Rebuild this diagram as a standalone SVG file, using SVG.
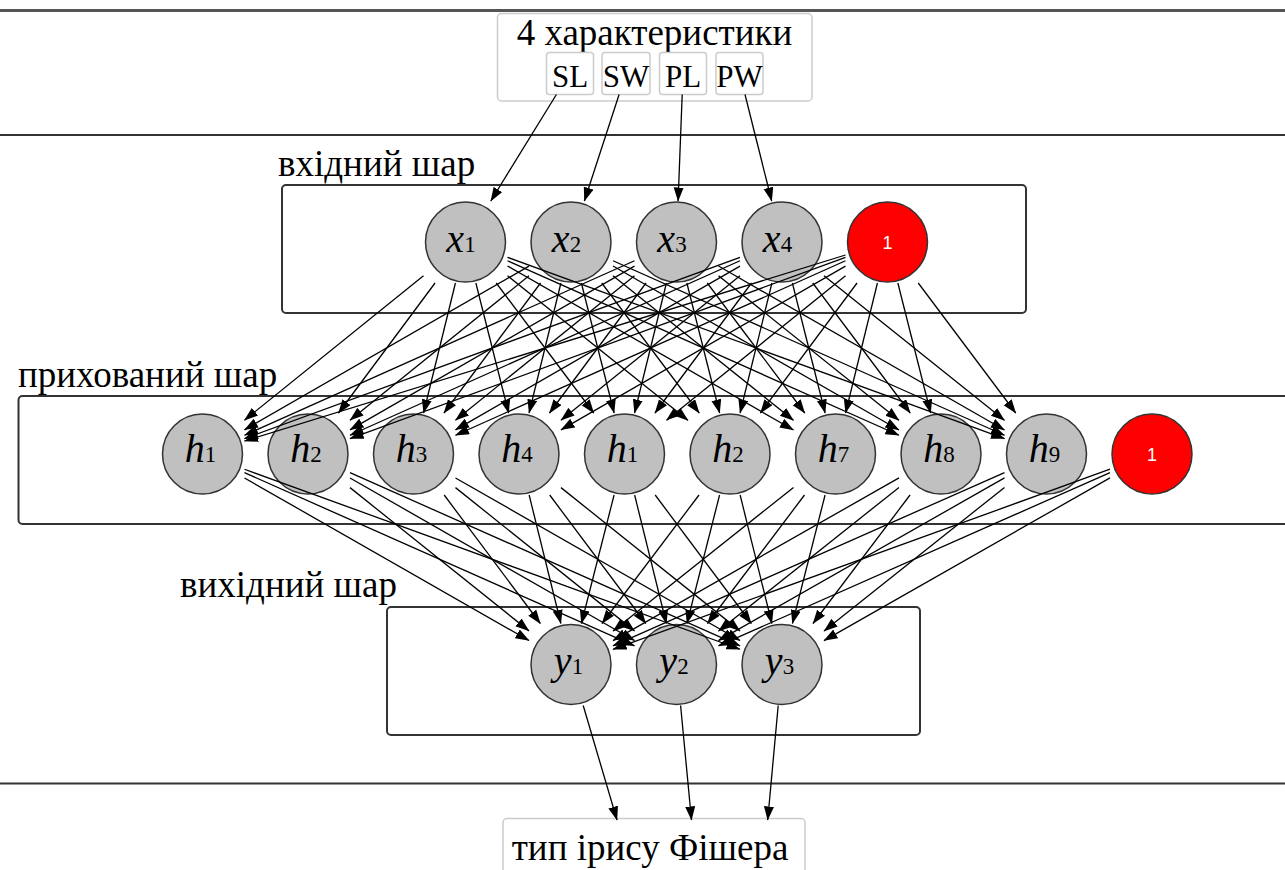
<svg xmlns="http://www.w3.org/2000/svg" width="1285" height="870" viewBox="0 0 1285 870">
  <style>
    .sep { stroke: #333; stroke-width: 2; }
    .layer { fill: none; stroke: #333; stroke-width: 2; }
    .io { fill: #fff; stroke: #ccc; stroke-width: 1.5; }
    .lbl { font-family: "Liberation Serif", "DejaVu Serif", serif; fill: #000; }
    .big { font-size: 37px; }
    .tag { font-size: 31px; }
    .layerlbl { font-size: 37px; }
    .n { fill: #c0c0c0; stroke: #333; stroke-width: 1.5; }
    .bias { fill: #ff0000; stroke: #333; stroke-width: 1.5; }
    .sym { font-family: "Liberation Serif", "DejaVu Serif", serif; font-size: 40px; font-style: italic; text-anchor: middle; }
    .sub { font-size: 23px; font-style: normal; }
    .one { font-family: "Liberation Sans", Arial, sans-serif; font-size: 18px; fill: #fff; text-anchor: middle; }
    .e line { stroke: #000; stroke-width: 1.3; marker-end: url(#ah); }
  </style>
  <defs>
    <marker id="ah" markerUnits="userSpaceOnUse" markerWidth="16" markerHeight="11" refX="13.5" refY="5" orient="auto">
      <path d="M0,0 L14,5 L0,10 z" fill="#000"/>
    </marker>
  </defs>

  <rect width="1285" height="870" fill="#fff"/>

  <!-- separators -->
  <line x1="0" y1="10.5" x2="1285" y2="10.5" stroke="#555" stroke-width="3"/>
  <line class="sep" x1="0" y1="135" x2="1285" y2="135"/>
  <line class="sep" x1="0" y1="783.5" x2="1285" y2="783.5"/>

  <!-- features -->
  <g id="features">
    <rect class="io" x="497.5" y="13.5" width="314.5" height="87.5" rx="4"/>
    <text class="lbl big" x="654.5" y="45" text-anchor="middle">4 характеристики</text>
    <g id="f-SL"><rect class="io" x="546.5" y="52.5" width="47" height="42" rx="3"/><text class="lbl tag" x="570" y="87" text-anchor="middle">SL</text></g>
    <g id="f-SW"><rect class="io" x="602" y="52.5" width="48" height="42" rx="3"/><text class="lbl tag" x="626" y="87" text-anchor="middle">SW</text></g>
    <g id="f-PL"><rect class="io" x="659.5" y="52.5" width="47" height="42" rx="3"/><text class="lbl tag" x="683" y="87" text-anchor="middle">PL</text></g>
    <g id="f-PW"><rect class="io" x="716" y="52.5" width="47" height="42" rx="3"/><text class="lbl tag" x="739.5" y="87" text-anchor="middle">PW</text></g>
  </g>

  <!-- result -->
  <g id="result">
    <rect class="io" x="503" y="818.5" width="302" height="80" rx="4"/>
    <text class="lbl big" x="650" y="860" text-anchor="middle">тип ірису Фішера</text>
  </g>

  <!-- layer frames -->
  <g id="input-layer">
    <rect class="layer" x="282" y="185" width="744" height="128" rx="4"/>
    <text class="lbl layerlbl" x="278" y="176">вхідний шар</text>
  </g>
  <g id="hidden-layer">
    <rect class="layer" x="18.5" y="396" width="1290" height="128" rx="4"/>
    <text class="lbl layerlbl" x="18" y="386.5">прихований шар</text>
  </g>
  <g id="output-layer">
    <rect class="layer" x="387" y="607" width="533" height="128" rx="4"/>
    <text class="lbl layerlbl" x="180" y="596.5">вихідний шар</text>
  </g>

  <!-- input nodes -->
  <g id="x1"><circle class="n" cx="465.5" cy="242" r="40"/><text class="sym" x="461" y="252">x<tspan class="sub">1</tspan></text></g>
  <g id="x2"><circle class="n" cx="571" cy="242" r="40"/><text class="sym" x="566.5" y="252">x<tspan class="sub">2</tspan></text></g>
  <g id="x3"><circle class="n" cx="676.5" cy="242" r="40"/><text class="sym" x="672" y="252">x<tspan class="sub">3</tspan></text></g>
  <g id="x4"><circle class="n" cx="782" cy="242" r="40"/><text class="sym" x="777.5" y="252">x<tspan class="sub">4</tspan></text></g>
  <g id="b-in"><circle class="bias" cx="887.5" cy="242" r="40"/><text class="one" x="887.5" y="249">1</text></g>

  <!-- hidden nodes -->
  <g id="h-1"><circle class="n" cx="202.5" cy="454" r="40"/><text class="sym" x="200.5" y="462">h<tspan class="sub">1</tspan></text></g>
  <g id="h-2"><circle class="n" cx="308" cy="454" r="40"/><text class="sym" x="306" y="462">h<tspan class="sub">2</tspan></text></g>
  <g id="h-3"><circle class="n" cx="413.5" cy="454" r="40"/><text class="sym" x="411.5" y="462">h<tspan class="sub">3</tspan></text></g>
  <g id="h-4"><circle class="n" cx="519" cy="454" r="40"/><text class="sym" x="517" y="462">h<tspan class="sub">4</tspan></text></g>
  <g id="h-5"><circle class="n" cx="624.5" cy="454" r="40"/><text class="sym" x="622.5" y="462">h<tspan class="sub">1</tspan></text></g>
  <g id="h-6"><circle class="n" cx="730" cy="454" r="40"/><text class="sym" x="728" y="462">h<tspan class="sub">2</tspan></text></g>
  <g id="h-7"><circle class="n" cx="835.5" cy="454" r="40"/><text class="sym" x="833.5" y="462">h<tspan class="sub">7</tspan></text></g>
  <g id="h-8"><circle class="n" cx="941" cy="454" r="40"/><text class="sym" x="939" y="462">h<tspan class="sub">8</tspan></text></g>
  <g id="h-9"><circle class="n" cx="1046.5" cy="454" r="40"/><text class="sym" x="1044.5" y="462">h<tspan class="sub">9</tspan></text></g>
  <g id="b-hid"><circle class="bias" cx="1152" cy="454" r="40"/><text class="one" x="1152" y="461">1</text></g>

  <!-- output nodes -->
  <g id="y1"><circle class="n" cx="571" cy="664.5" r="40"/><text class="sym" x="568.5" y="673.5">y<tspan class="sub">1</tspan></text></g>
  <g id="y2"><circle class="n" cx="676.5" cy="664.5" r="40"/><text class="sym" x="674" y="673.5">y<tspan class="sub">2</tspan></text></g>
  <g id="y3"><circle class="n" cx="782" cy="664.5" r="40"/><text class="sym" x="779.5" y="673.5">y<tspan class="sub">3</tspan></text></g>

  <!-- connectors -->
  <g id="edges" class="e">
    <!-- features to inputs -->
    <line x1="556.4" y1="94.5" x2="490.8" y2="201"/>
    <line x1="619.1" y1="94.5" x2="584.4" y2="201"/>
    <line x1="682.2" y1="94.5" x2="678.1" y2="201"/>
    <line x1="745" y1="94.5" x2="771.7" y2="201"/>

    <!-- x1 to hidden -->
    <line x1="423.5" y1="275.86" x2="244.5" y2="420.14"/>
    <line x1="435.04" y1="283" x2="338.46" y2="413"/>
    <line x1="455.44" y1="283" x2="423.56" y2="413"/>
    <line x1="475.85" y1="283" x2="508.65" y2="413"/>
    <line x1="496.25" y1="283" x2="593.75" y2="413"/>
    <line x1="507.5" y1="275.66" x2="688" y2="420.34"/>
    <line x1="507.5" y1="266.06" x2="793.5" y2="429.94"/>
    <line x1="507.5" y1="260.73" x2="899" y2="435.27"/>
    <line x1="507.5" y1="257.33" x2="1004.5" y2="438.67"/>
    <!-- x2 to hidden -->
    <line x1="529" y1="266.16" x2="244.5" y2="429.84"/>
    <line x1="529" y1="275.86" x2="350" y2="420.14"/>
    <line x1="540.54" y1="283" x2="443.96" y2="413"/>
    <line x1="560.94" y1="283" x2="529.06" y2="413"/>
    <line x1="581.35" y1="283" x2="614.15" y2="413"/>
    <line x1="601.75" y1="283" x2="699.25" y2="413"/>
    <line x1="613" y1="275.66" x2="793.5" y2="420.34"/>
    <line x1="613" y1="266.06" x2="899" y2="429.94"/>
    <line x1="613" y1="260.73" x2="1004.5" y2="435.27"/>
    <!-- x3 to hidden -->
    <line x1="634.5" y1="260.78" x2="244.5" y2="435.22"/>
    <line x1="634.5" y1="266.16" x2="350" y2="429.84"/>
    <line x1="634.5" y1="275.86" x2="455.5" y2="420.14"/>
    <line x1="646.04" y1="283" x2="549.46" y2="413"/>
    <line x1="666.44" y1="283" x2="634.56" y2="413"/>
    <line x1="686.85" y1="283" x2="719.65" y2="413"/>
    <line x1="707.25" y1="283" x2="804.75" y2="413"/>
    <line x1="718.5" y1="275.66" x2="899" y2="420.34"/>
    <line x1="718.5" y1="266.06" x2="1004.5" y2="429.94"/>
    <!-- x4 to hidden -->
    <line x1="740" y1="257.37" x2="244.5" y2="438.63"/>
    <line x1="740" y1="260.78" x2="350" y2="435.22"/>
    <line x1="740" y1="266.16" x2="455.5" y2="429.84"/>
    <line x1="740" y1="275.86" x2="561" y2="420.14"/>
    <line x1="751.54" y1="283" x2="654.96" y2="413"/>
    <line x1="771.94" y1="283" x2="740.06" y2="413"/>
    <line x1="792.35" y1="283" x2="825.15" y2="413"/>
    <line x1="812.75" y1="283" x2="910.25" y2="413"/>
    <line x1="824" y1="275.66" x2="1004.5" y2="420.34"/>
    <!-- input bias to hidden -->
    <line x1="845.5" y1="255" x2="244.5" y2="441"/>
    <line x1="845.5" y1="257.37" x2="350" y2="438.63"/>
    <line x1="845.5" y1="260.78" x2="455.5" y2="435.22"/>
    <line x1="845.5" y1="266.16" x2="561" y2="429.84"/>
    <line x1="845.5" y1="275.86" x2="666.5" y2="420.14"/>
    <line x1="857.04" y1="283" x2="760.46" y2="413"/>
    <line x1="877.44" y1="283" x2="845.56" y2="413"/>
    <line x1="897.85" y1="283" x2="930.65" y2="413"/>
    <line x1="918.25" y1="283" x2="1015.75" y2="413"/>

    <!-- hidden to outputs -->
    <line x1="244.5" y1="477.99" x2="529" y2="640.51"/>
    <line x1="244.5" y1="472.65" x2="634.5" y2="645.85"/>
    <line x1="244.5" y1="469.26" x2="740" y2="649.24"/>
    <line x1="350" y1="487.62" x2="529" y2="630.88"/>
    <line x1="350" y1="477.99" x2="634.5" y2="640.51"/>
    <line x1="350" y1="472.65" x2="740" y2="645.85"/>
    <line x1="444.18" y1="495" x2="540.32" y2="623.5"/>
    <line x1="455.5" y1="487.62" x2="634.5" y2="630.88"/>
    <line x1="455.5" y1="477.99" x2="740" y2="640.51"/>
    <line x1="529.13" y1="495" x2="560.87" y2="623.5"/>
    <line x1="549.68" y1="495" x2="645.82" y2="623.5"/>
    <line x1="561" y1="487.62" x2="740" y2="630.88"/>
    <line x1="614.08" y1="495" x2="581.42" y2="623.5"/>
    <line x1="634.63" y1="495" x2="666.37" y2="623.5"/>
    <line x1="655.18" y1="495" x2="751.32" y2="623.5"/>
    <line x1="699.03" y1="495" x2="601.97" y2="623.5"/>
    <line x1="719.58" y1="495" x2="686.92" y2="623.5"/>
    <line x1="740.13" y1="495" x2="771.87" y2="623.5"/>
    <line x1="793.5" y1="487.43" x2="613" y2="631.07"/>
    <line x1="804.53" y1="495" x2="707.47" y2="623.5"/>
    <line x1="825.08" y1="495" x2="792.42" y2="623.5"/>
    <line x1="899" y1="477.89" x2="613" y2="640.61"/>
    <line x1="899" y1="487.43" x2="718.5" y2="631.07"/>
    <line x1="910.03" y1="495" x2="812.97" y2="623.5"/>
    <line x1="1004.5" y1="472.59" x2="613" y2="645.91"/>
    <line x1="1004.5" y1="477.89" x2="718.5" y2="640.61"/>
    <line x1="1004.5" y1="487.43" x2="824" y2="631.07"/>
    <line x1="1110" y1="469.22" x2="613" y2="649.28"/>
    <line x1="1110" y1="472.59" x2="718.5" y2="645.91"/>
    <line x1="1110" y1="477.89" x2="824" y2="640.61"/>

    <!-- outputs to result -->
    <line x1="583.2" y1="705.5" x2="617" y2="820"/>
    <line x1="680.6" y1="705.5" x2="691.5" y2="820"/>
    <line x1="778.2" y1="705.5" x2="767.7" y2="820"/>
  </g>
</svg>
